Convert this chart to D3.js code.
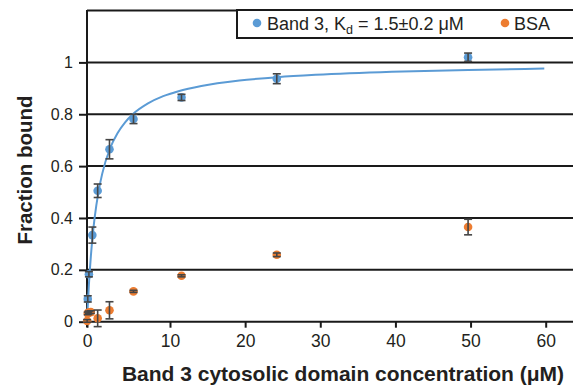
<!DOCTYPE html>
<html>
<head>
<meta charset="utf-8">
<script src="https://cdn.jsdelivr.net/npm/d3@7"></script>
<style>
  html, body { margin: 0; padding: 0; background: #fff; }
  svg { display: block; font-family: "Liberation Sans", Arial, sans-serif; }
</style>
</head>
<body>
<svg id="chart" width="573" height="385"></svg>
<script>
// ---- Data ----
const band3Conc     = [0.1, 0.25, 0.7, 1.4, 2.95, 6.1, 12.4, 24.9, 50];
const band3Fraction = [0.088, 0.183, 0.334, 0.505, 0.665, 0.782, 0.865, 0.937, 1.02];
const band3Error    = [0.012, 0.01, 0.031, 0.026, 0.037, 0.018, 0.012, 0.019, 0.016];

const bsaConc     = [0.02, 0.1, 0.25, 0.5, 1.4, 2.95, 6.1, 12.4, 24.9, 50];
const bsaFraction = [0.003, 0.032, 0.036, 0.037, 0.013, 0.044, 0.117, 0.177, 0.258, 0.365];
const bsaError    = [0.005, 0.005, 0.005, 0.005, 0.032, 0.033, 0.004, 0.004, 0.007, 0.03];

// fitted binding curve (Kd = 1.5 µM), sampled as drawn in the reference
const fitConc     = [0, 0.1, 0.25, 0.5, 0.75, 1, 1.5, 2, 3, 4, 5, 6, 8, 10, 12, 15, 20, 25, 30, 40, 50, 60];
const fitFraction = [0, 0.0625, 0.143, 0.25, 0.333, 0.4, 0.5, 0.571, 0.667, 0.727, 0.769, 0.8, 0.842, 0.870, 0.889, 0.909, 0.930, 0.943, 0.952, 0.964, 0.971, 0.976];

const xTickValues = [0, 10, 20, 30, 40, 50, 60];
const yTickValues = [0, 0.2, 0.4, 0.6, 0.8, 1];
const yTickLabels = ["0", "0.2", "0.4", "0.6", "0.8", "1"];

const legendBand3 = ["Band 3, K", "d", " = 1.5±0.2 μM"];
const legendBSA = "BSA";
const xTitle = "Band 3 cytosolic domain concentration (μM)";
const yTitle = "Fraction bound";

// ---- Layout ----
const blue = "#5B9BD5", orange = "#ED7D31", ink = "#1a1a1a", errInk = "#454545", textInk = "#231f20";
const svg = d3.select("#chart");
const plotLeft = 87, plotRight = 573, plotTop = 10, plotBottom = 321.7;

const x = d3.scaleLinear().domain([0, 60]).range([plotLeft, 544.3]);
// axis labels in the reference sit on a slightly different spacing than the data
const xAxisScale = d3.scaleLinear().domain([0, 10, 60]).range([plotLeft, 170, 545.7]);
const y = d3.scaleLinear().domain([0, 1.2]).range([plotBottom, plotBottom - 1.2 * 259.3]);

// gridlines
svg.append("g")
  .selectAll("line").data(yTickValues.filter(d => d > 0).concat([1.2]))
  .join("line")
  .attr("x1", plotLeft).attr("x2", plotRight)
  .attr("y1", d => y(d)).attr("y2", d => y(d))
  .attr("stroke", ink).attr("stroke-width", 2);

// x axis
const xAxis = svg.append("g")
  .attr("transform", `translate(0,${plotBottom})`)
  .call(d3.axisBottom(xAxisScale).tickValues(xTickValues).tickSize(6).tickSizeOuter(0).tickFormat(d3.format("d")));
xAxis.select(".domain").attr("stroke", ink).attr("stroke-width", 2).attr("d", `M${plotLeft},0H${plotRight}`);
xAxis.selectAll(".tick line").attr("stroke", ink).attr("stroke-width", 2);
xAxis.selectAll(".tick text").attr("fill", textInk).attr("font-size", 17.5).attr("dy", "0.71em").attr("y", 13)
  .attr("font-family", "Liberation Sans, Arial, sans-serif");

// y axis
const yAxis = svg.append("g")
  .attr("transform", `translate(${plotLeft},0)`)
  .call(d3.axisLeft(y).tickValues(yTickValues).tickSize(8).tickSizeOuter(0).tickFormat((d, i) => yTickLabels[i]));
yAxis.select(".domain").attr("stroke", ink).attr("stroke-width", 2).attr("d", `M0,${plotTop}V${plotBottom + 5.5}`);
yAxis.selectAll(".tick line").attr("stroke", ink).attr("stroke-width", 2);
yAxis.selectAll(".tick text").attr("fill", textInk).attr("font-size", 16).attr("x", -14)
  .attr("font-family", "Liberation Sans, Arial, sans-serif");

// fit curve
const line = d3.line().x(d => x(d[0])).y(d => y(d[1])).curve(d3.curveMonotoneX);
svg.append("path")
  .datum(fitConc.map((c, i) => [c, fitFraction[i]]))
  .attr("d", line).attr("fill", "none").attr("stroke", blue).attr("stroke-width", 2);

function drawSeries(conc, frac, err, color) {
  const g = svg.append("g");
  const pts = conc.map((c, i) => ({ c, f: frac[i], e: err[i] }));
  g.selectAll("circle").data(pts).join("circle")
    .attr("cx", d => x(d.c)).attr("cy", d => y(d.f)).attr("r", 4.3).attr("fill", color);
  const eb = g.selectAll("g.eb").data(pts).join("g").attr("class", "eb")
    .attr("stroke", errInk).attr("stroke-width", 1.6);
  eb.append("line").attr("x1", d => x(d.c)).attr("x2", d => x(d.c))
    .attr("y1", d => y(d.f - d.e)).attr("y2", d => y(d.f + d.e));
  eb.append("line").attr("x1", d => x(d.c) - 4).attr("x2", d => x(d.c) + 4)
    .attr("y1", d => y(d.f - d.e)).attr("y2", d => y(d.f - d.e));
  eb.append("line").attr("x1", d => x(d.c) - 4).attr("x2", d => x(d.c) + 4)
    .attr("y1", d => y(d.f + d.e)).attr("y2", d => y(d.f + d.e));
}
drawSeries(band3Conc, band3Fraction, band3Error, blue);
drawSeries(bsaConc, bsaFraction, bsaError, orange);

// legend
const lg = svg.append("g");
lg.append("rect").attr("x", 237).attr("y", 10).attr("width", 345).attr("height", 28)
  .attr("fill", "#fff").attr("stroke", ink).attr("stroke-width", 2);
lg.append("circle").attr("cx", 257).attr("cy", 23).attr("r", 4.3).attr("fill", blue);
const lt = lg.append("text").attr("x", 267).attr("y", 29.5).attr("font-size", 18).attr("fill", textInk);
lt.append("tspan").text(legendBand3[0]);
lt.append("tspan").attr("dy", 4).attr("font-size", 12.5).text(legendBand3[1]);
lt.append("tspan").attr("dy", -4).text(legendBand3[2]);
lg.append("circle").attr("cx", 505).attr("cy", 23).attr("r", 4.3).attr("fill", orange);
lg.append("text").attr("x", 514).attr("y", 29.5).attr("font-size", 18).attr("fill", textInk).text(legendBSA);

// axis titles
svg.append("text").attr("x", 343).attr("y", 381).attr("text-anchor", "middle")
  .attr("font-size", 21).attr("font-weight", "bold").attr("fill", textInk).text(xTitle);
svg.append("text").attr("transform", "translate(32,170) rotate(-90)").attr("text-anchor", "middle")
  .attr("font-size", 20.5).attr("font-weight", "bold").attr("fill", textInk).text(yTitle);
</script>
</body>
</html>
